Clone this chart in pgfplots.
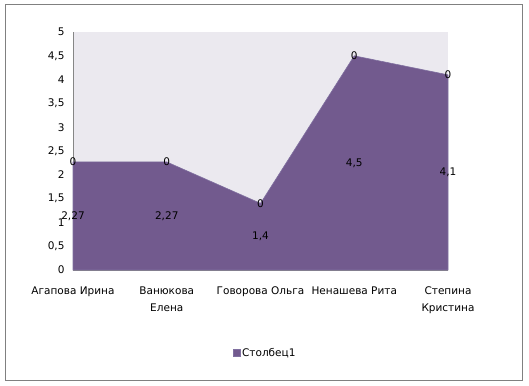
\documentclass[border=0pt]{standalone}
\usepackage{pgfplots}
\pgfplotsset{compat=1.18}
\usepackage{fontspec}
\setmainfont{DejaVu Sans}
\definecolor{areapurple}{RGB}{114,90,142}
\definecolor{areaedge}{RGB}{128,112,160}
\definecolor{plotbg}{RGB}{235,233,239}
\definecolor{framegray}{RGB}{128,128,128}
\definecolor{axisgray}{RGB}{134,134,134}
\newcommand{\chartfont}{\fontsize{10.5bp}{17bp}\selectfont}

\begin{document}
\begin{tikzpicture}
\useasboundingbox (0,0) rectangle (529bp,386bp);
\draw[framegray, line width=1bp] (5.5bp,5.5bp) rectangle (522.5bp,381bp);
\begin{axis}[
  at={(73bp,116bp)}, anchor=south west,
  scale only axis, width=375bp, height=238bp,
  xmin=0, xmax=4, ymin=0, ymax=5,
  axis background/.style={fill=plotbg},
  axis lines*=left,
  axis line style={axisgray, line width=0.8bp},
  major tick length=0pt,
  xtick={0,1,2,3,4},
  xticklabels={Агапова Ирина, {Ванюкова\\Елена}, Говорова Ольга, Ненашева Рита, {Степина\\Кристина}},
  ytick={0,0.5,...,5},
  /pgf/number format/.cd, use comma, 1000 sep={}, assume math mode=true, /pgfplots/.cd,
  yticklabel style={font=\chartfont, xshift=-5bp},
  xticklabel style={font=\chartfont, align=center, yshift=-13bp},
  stack plots=y,
  clip=false,
  legend style={at={(0.512,-0.349)}, anchor=center, draw=none, fill=none, font=\chartfont,
    inner sep=0pt},
  legend image code/.code={\draw[fill=areapurple, draw=areaedge] (0bp,-3.5bp) rectangle (7bp,3.5bp);},
]
% scores, with each value label placed halfway up its column
\addplot[fill=areapurple, draw=areaedge, line width=0.6bp,
  nodes near coords, point meta=rawy,
  visualization depends on={rawy \as \ry},
  every node near coord/.style={anchor=center, yshift={-23.8bp*\ry}, font=\chartfont, text=black}]
  coordinates {(0,2.27) (1,2.27) (2,1.4) (3,4.5) (4,4.1)} \closedcycle;
\addlegendentry{Столбец1}
% empty stacked series whose zero labels sit on the top edge
\addplot[draw=none, forget plot,
  nodes near coords, point meta=rawy,
  every node near coord/.style={anchor=center, font=\chartfont, text=black}]
  coordinates {(0,0) (1,0) (2,0) (3,0) (4,0)};
\end{axis}
\end{tikzpicture}
\end{document}
